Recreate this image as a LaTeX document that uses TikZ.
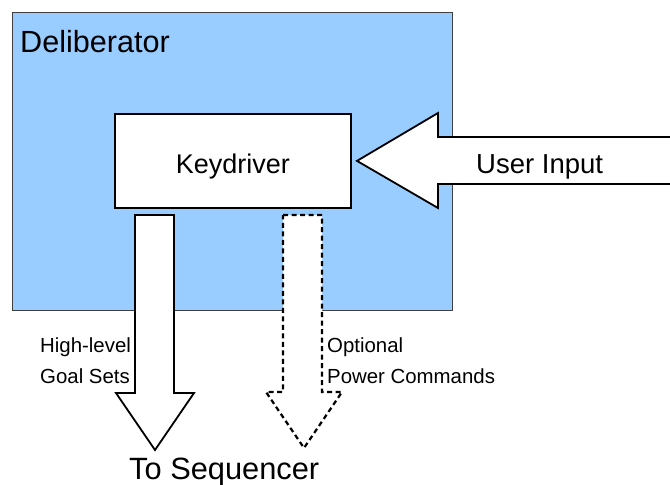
\documentclass[tikz,border=0pt]{standalone}
\usepackage{fontspec}
\setmainfont{Liberation Sans}
\begin{document}
\begin{tikzpicture}[x=1pt,y=-1pt,
  frame/.style={draw=black!75,line width=0.9pt,fill=delibblue},
  boxnode/.style={draw=black,line width=1.8pt,fill=white},
  blockarrow/.style={draw=black,line width=1.8pt,fill=white,line join=miter},
  dasharrow/.style={draw=black,line width=2.2pt,fill=white,dash pattern=on 5pt off 3.5pt},
  lbl/.style={inner sep=0pt,font=\fontsize{20.4}{31}\selectfont,align=left}]
\definecolor{delibblue}{HTML}{99CCFF}
\useasboundingbox (0,0) rectangle (670,485);
\clip (0,0) rectangle (670,485);

% Deliberator frame and the Keydriver block inside it
\node[frame,minimum width=440pt,minimum height=298pt,anchor=north west,inner sep=0pt] (delib) at (12,12) {};
\node[anchor=base west,inner sep=0pt,font=\fontsize{30.6}{36}\selectfont] (delibname) at (20,52.5) {Deliberator};
\node[boxnode,minimum width=236pt,minimum height=94pt,anchor=north west,inner sep=0pt] (key) at (114,113) {};
\node[anchor=base,inner sep=0pt,font=\fontsize{27}{32}\selectfont] (keyname) at (key.center) [yshift=-13pt] {Keydriver};

% User input block arrow entering from the right
\coordinate (uitip) at (357,160.5);
\path[blockarrow] (key.east -| uitip) -- (438,113) -- (438,137) -- (680,137)
  -- (680,184) -- (438,184) -- (438,208) -- cycle;
\node[anchor=base west,inner sep=0pt,font=\fontsize{27.5}{32}\selectfont] (uiname) at (476,173) {User Input};

% Goal sets block arrow leaving the Keydriver downwards
\coordinate (gtip) at (155,450);
\path[blockarrow] (135,215) -- (174,215) -- (174,393) -- (194,393) -- (gtip)
  -- (116,393) -- (135,393) -- cycle;

% Optional power commands, dashed block arrow
\coordinate (ptip) at (304,448);
\path[dasharrow] (283,215) -- (322,215) -- (322,392) -- (342,392) -- (ptip)
  -- (266,392) -- (283,392) -- cycle;

% Labels
\node[lbl,anchor=base west] (goals) at (40,383) {High-level\\Goal Sets};
\node[lbl,anchor=base west] (power) at (327,383) {Optional\\Power Commands};
\node[anchor=base west,inner sep=0pt,font=\fontsize{30.8}{36}\selectfont] (seq) at (129,479) {To Sequencer};
\end{tikzpicture}
\end{document}
